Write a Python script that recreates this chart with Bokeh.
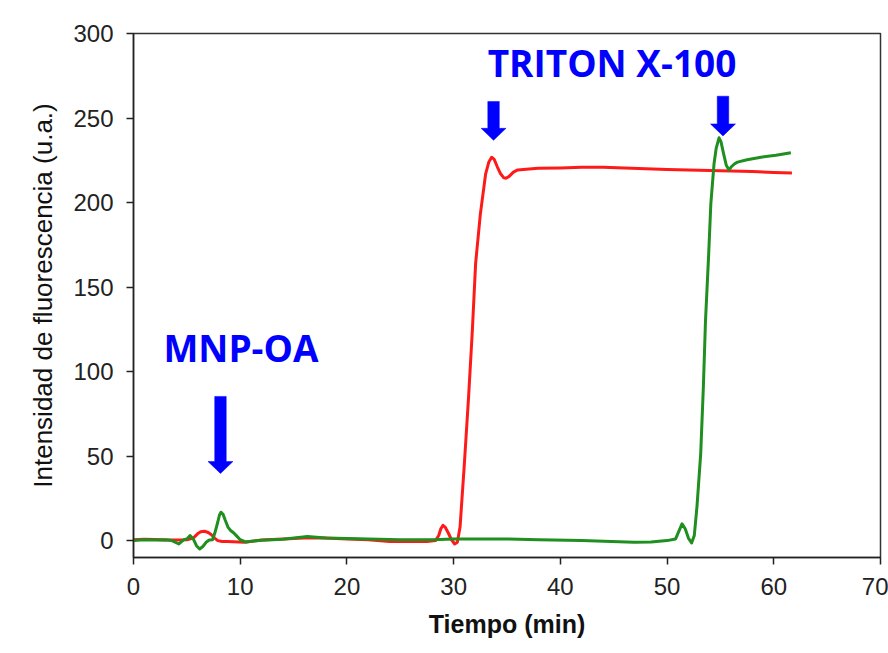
from bokeh.plotting import figure
from bokeh.models import Range1d, FixedTicker
from bokeh.core.properties import value
from bokeh.embed import file_html
from bokeh.resources import INLINE

# ---- data ----
red_t = [0, 1, 2, 3, 4, 5, 5.6, 6.0, 6.3, 6.65, 7.0, 7.3, 7.6, 7.9, 8.3, 8.8, 10.4, 12, 14, 16,
         18, 20, 22, 24, 26, 27.5, 28.3, 28.6, 28.8, 29.0, 29.2, 29.5, 29.8, 30.1, 30.35, 30.6,
         31.0, 31.4, 31.75, 32.06, 32.5, 33.0, 33.3, 33.56, 33.8, 34.1, 34.4, 34.7, 34.9, 35.2,
         35.6, 36.0, 37.9, 40, 42, 44, 46, 48, 50, 52, 54, 56, 58, 60, 61.7]
red_f = [0.5, 0.8, 0.6, 0.4, 0.3, 0.5, 1.5, 4, 5.2, 5.5, 4.8, 3.5, 1.5, 0, -0.5, -0.6, -1, 0.3,
         1, 1.5, 1.5, 1, 0.5, -0.5, -0.5, -0.5, 0, 3, 7, 9, 8, 4.5, 0.5, -2, -1, 8,
         45, 85, 124, 164, 193, 217, 224, 226.8, 225.5, 221, 217, 214.6, 214.4, 215.5,
         218, 219.3, 220.3, 220.5, 220.8, 220.9, 220.5, 220, 219.6, 219.3, 219, 218.7, 218.3,
         217.8, 217.4]

green_t = [0, 1, 2, 3, 3.6, 4.25, 4.7, 5.0, 5.3, 5.6, 5.9, 6.2, 6.5, 6.8, 7.1, 7.4, 7.6, 7.9,
           8.05, 8.2, 8.4, 8.6, 8.85, 9.1, 9.4, 9.7, 10.0, 10.5, 12, 14, 16.3, 18, 20, 22, 25,
           28, 30, 32, 34.4, 38, 42, 46.9, 48.5, 50.0, 50.8, 51.1, 51.4, 51.7, 52.0, 52.3, 52.55,
           52.8, 53.15, 53.4, 53.6, 53.9, 54.1, 54.4, 54.6, 54.87, 55.05, 55.3, 55.55, 55.8, 56.0,
           56.3, 56.6, 57.5, 58.8, 60.2, 61.6]
green_f = [0, 0.5, 0.3, 0.5, 0, -2, 0.5, 1, 3, 1, -3, -5, -3.5, -1, 0.3, 0.5, 4, 11,
           15, 16.8, 15.5, 12, 8, 6, 4.5, 2.5, 0.5, -0.8, 0.2, 0.8, 2.4, 1.5, 1.2, 1, 0.5,
           0.5, 1, 1, 1, 0.5, 0, -1, -0.8, 0, 1, 5.5, 9.9, 7, 1.5, -1.4, 3,
           20, 51.3, 90.7, 130, 169.6, 199.2, 222.9, 232, 238.3, 236, 228.8, 222, 219.3, 221,
           222.8, 223.9, 225.3, 226.8, 228, 229.4]

x_ticks = [0, 10, 20, 30, 40, 50, 60, 70]
y_ticks = [0, 50, 100, 150, 200, 250, 300]

labels = ["MNP-OA", "TRITON X-100"]
label_t = [10.07, 44.84]
label_f = [114.2, 282.8]

arrow_t = [8.15, 33.74, 55.24]
arrow_tip = [39.7, 236.8, 239.4]
arrow_top = [85.3, 259.8, 262.9]

# ---- layout ----
W, H = 888, 653
BL, BR, BT, BB = 133, 8, 33, 96
X0, X1, Y0, Y1 = 0, 70, -10, 300

p = figure(width=W, height=H, output_backend="svg", toolbar_location=None,
           x_range=Range1d(X0, X1), y_range=Range1d(Y0, Y1),
           min_border_left=BL, min_border_right=BR, min_border_top=BT, min_border_bottom=BB)
p.background_fill_color = "white"
p.border_fill_color = "white"
p.outline_line_color = "#333333"
p.outline_line_width = 1.5
p.xgrid.visible = False
p.ygrid.visible = False

FONT = "Liberation Sans"
for ax in (p.xaxis[0], p.yaxis[0]):
    ax.axis_line_color = "#222222"
    ax.axis_line_width = 1.5
    ax.major_tick_line_color = "#222222"
    ax.major_tick_line_width = 1.5
    ax.major_tick_out = 7
    ax.major_tick_in = 0
    ax.minor_tick_line_color = None
    ax.major_label_text_font = FONT
    ax.major_label_text_font_size = "24px"
    ax.major_label_text_color = "#222222"
    ax.major_label_standoff = 13
    ax.axis_label_text_font = FONT
    ax.axis_label_text_color = "#111111"

p.xaxis.ticker = FixedTicker(ticks=x_ticks)
p.yaxis.ticker = FixedTicker(ticks=y_ticks)
p.xaxis.axis_label = "Tiempo (min)"
p.xaxis.axis_label_text_font_style = "bold"
p.xaxis.axis_label_text_font_size = "25px"
p.xaxis.axis_label_standoff = 12
p.yaxis.axis_label = "Intensidad de fluorescencia (u.a.)"
p.yaxis.axis_label_text_font_style = "normal"
p.yaxis.axis_label_text_font_size = "26px"
p.yaxis.axis_label_standoff = 12

p.line(red_t, red_f, line_color="#ff1a1a", line_width=3, line_join="round")
p.line(green_t, green_f, line_color="#1f8f1f", line_width=3, line_join="round")

# arrows as polygons (sizes given in screen pixels, converted via the scale)
fw = W - BL - BR
fh = H - BT - BB
sx = fw / (X1 - X0)
sy = fh / (Y1 - Y0)
shaft_half = 5.75 / sx
head_half = 12.5 / sx
head_len = 12 / sy
xs, ys = [], []
for t, tip, top in zip(arrow_t, arrow_tip, arrow_top):
    base = tip + head_len
    xs.append([t - shaft_half, t + shaft_half, t + shaft_half, t + head_half, t,
               t - head_half, t - shaft_half])
    ys.append([top, top, base, base, tip, base, base])
p.patches(xs, ys, fill_color="#0000ff", line_color="#0000ff", line_width=0.5)

p.text(label_t, label_f, text=labels, text_font=value("Open Sans"),
       text_font_style="bold", text_font_size="37px", text_color="#0000ff",
       text_align="center", text_baseline="middle")

open("out.html", "w").write(file_html(p, INLINE))
